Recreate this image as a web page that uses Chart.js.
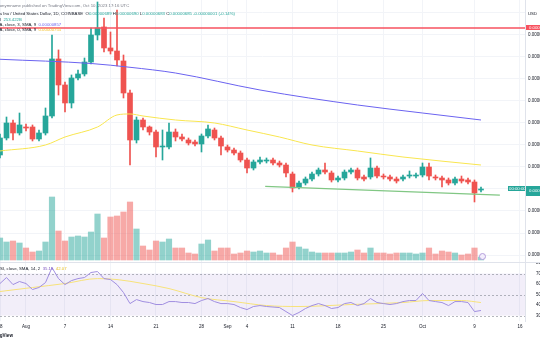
<!DOCTYPE html>
<html>
<head>
<meta charset="utf-8">
<script src="https://cdn.jsdelivr.net/npm/chart.js@4.4.0/dist/chart.umd.min.js"></script>
<style>
body { margin: 0; background: #fff; }
#wrap { position: relative; width: 540px; height: 340px; overflow: hidden; background: #fff; font-family: "Liberation Sans", Arial, sans-serif; }
#c1 { position: absolute; left: 0; top: 0; }
#c2 { position: absolute; left: 0; top: 262px; }
.t { position: absolute; white-space: nowrap; font-size: 4.3px; line-height: 5px; color: #131722; }
.g { color: #26a69a; }
.line { position: absolute; background: #e0e3eb; }
</style>
</head>
<body>
<div id="wrap">
  <canvas id="c1" width="540" height="262"></canvas>
  <canvas id="c2" width="540" height="78"></canvas>

  <div class="t" style="left:-6px;top:3px;color:#787b86">lanonymname published on TradingView.com, Oct 10, 2023 17:16 UTC</div>
  <div class="t" style="left:-9px;top:11px">Shiba Inu / United States Dollar, 1D, COINBASE&nbsp; O<span class="g">0.00000689</span> H<span class="g">0.00000690</span> L<span class="g">0.00000683</span> C<span class="g">0.00000685</span> <span class="g">-0.00000001 (-0.14%)</span></div>
  <div class="t" style="left:-5px;top:16.5px">Vol&nbsp; <span class="g">253.422B</span></div>
  <div class="t" style="left:-4px;top:21.5px">MA, close, 3, SMA, 9&nbsp; <span style="color:#6b63f0">0.00000857</span></div>
  <div class="t" style="left:-4px;top:26.5px">MA, close, 0, SMA, 9&nbsp; <span style="color:#f2c230">0.00000755</span></div>

  <div class="t" style="left:-3px;top:265.5px">RSI, close, SMA, 14, 2&nbsp; <span style="color:#7e57c2">35.15</span>&nbsp; <span style="color:#e8c024">42.07</span></div>

  <div class="t" style="left:528px;top:10.5px">USD</div>
  <div class="t" style="left:526px;top:25px;background:#f7525f;color:#fff;padding:0 3px">0.00001066</div>
  <div class="t" style="left:508px;top:186px;background:#26a69a;color:#fff;padding:0 1px">00:00:00</div>
  <div class="t" style="left:526px;top:185.5px;background:#26a69a;color:#fff;padding:0 3px;line-height:10px">0.00000700</div>
  <div style="position:absolute;left:479px;top:253px;width:5px;height:5px;border-radius:50%;border:1px solid #b39ddb;background:#f3eefc"></div>

  <div class="line" style="left:0;top:262px;width:540px;height:1px"></div>
  <div class="line" style="left:525px;top:0;width:1px;height:322px"></div>
  <div class="t" style="left:-14px;top:333px;font-weight:bold;font-size:4.6px">TradingView</div>
</div>

<script>
// daily candles, 28 Jul 2023 .. 10 Oct 2023 (prices in millionths of a dollar)
const opens = [7.773, 8.159, 8.5, 8.273, 8.409, 8.409, 8.136, 8.273, 8.659, 9.955,
    9.364, 8.955, 9.523, 9.614, 9.886, 10.5, 10.682, 10.205, 10.136, 9.909,
    9.182, 8.114, 8.568, 8.409, 8.295, 7.955, 7.955, 8.295, 8.182, 8.114,
    8.068, 8.023, 8.205, 8.341, 8.159, 7.955, 7.886, 7.818, 7.659, 7.477,
    7.614, 7.636, 7.659, 7.591, 7.545, 7.341, 7.045, 7.136, 7.227, 7.341,
    7.432, 7.364, 7.205, 7.25, 7.386, 7.432, 7.273, 7.273, 7.477, 7.295,
    7.273, 7.227, 7.227, 7.295, 7.295, 7.318, 7.5, 7.273, 7.25, 7.205,
    7.136, 7.227, 7.205, 7.159, 6.977];
const highs = [8.25, 8.636, 8.568, 8.727, 8.477, 8.455, 8.341, 8.841, 10.5, 10.16,
    9.432, 9.591, 9.705, 9.977, 10.659, 11.25, 10.886, 10.568, 11.068, 10.045,
    9.25, 8.636, 8.614, 8.432, 8.341, 8.341, 8.5, 8.364, 8.25, 8.159,
    8.114, 8.25, 8.455, 8.386, 8.205, 8.0, 7.932, 7.864, 7.705, 7.659,
    7.727, 7.705, 7.705, 7.636, 7.591, 7.386, 7.182, 7.273, 7.386, 7.477,
    7.591, 7.409, 7.295, 7.432, 7.477, 7.477, 7.318, 7.705, 7.523, 7.341,
    7.318, 7.273, 7.318, 7.409, 7.364, 7.591, 7.591, 7.318, 7.295, 7.25,
    7.273, 7.295, 7.25, 7.205, 7.045];
const lows = [7.705, 8.114, 8.114, 8.227, 8.318, 8.091, 8.091, 8.227, 8.614, 9.136,
    8.75, 8.841, 9.477, 9.568, 9.841, 10.386, 10.114, 10.068, 9.795, 9.068,
    7.545, 8.045, 8.341, 8.227, 7.727, 7.659, 7.909, 8.091, 8.091, 8.0,
    7.977, 7.841, 8.159, 8.114, 7.773, 7.841, 7.773, 7.614, 7.364, 7.432,
    7.568, 7.591, 7.545, 7.5, 7.273, 6.932, 7.0, 7.091, 7.182, 7.295,
    7.341, 7.159, 7.159, 7.205, 7.341, 7.205, 7.182, 7.227, 7.25, 7.227,
    7.182, 7.136, 7.182, 7.25, 7.25, 7.273, 7.205, 7.205, 7.045, 7.091,
    7.091, 7.136, 7.114, 6.705, 6.932];
const closes = [8.159, 8.5, 8.273, 8.455, 8.386, 8.136, 8.273, 8.659, 9.955, 9.364,
    8.955, 9.523, 9.614, 9.886, 10.5, 10.659, 10.205, 10.136, 9.932, 9.182,
    8.114, 8.568, 8.409, 8.295, 7.955, 7.977, 8.295, 8.182, 8.136, 8.045,
    8.023, 8.205, 8.364, 8.159, 7.977, 7.886, 7.818, 7.659, 7.477, 7.614,
    7.659, 7.659, 7.591, 7.545, 7.364, 7.023, 7.136, 7.227, 7.341, 7.432,
    7.386, 7.205, 7.25, 7.386, 7.432, 7.25, 7.227, 7.477, 7.295, 7.273,
    7.227, 7.182, 7.273, 7.318, 7.318, 7.5, 7.295, 7.25, 7.205, 7.136,
    7.227, 7.182, 7.159, 6.909, 7.0];
// volume, billions
const volumes = [220, 180, 190, 170, 120, 80, 90, 180, 630, 290,
    190, 230, 240, 230, 280, 460, 220, 430, 440, 480,
    580, 310, 140, 100, 190, 180, 210, 120, 120, 70,
    60, 160, 200, 90, 120, 120, 60, 70, 90, 80,
    90, 70, 70, 50, 120, 180, 130, 110, 80, 70,
    70, 70, 70, 70, 80, 100, 70, 120, 70, 70,
    60, 70, 70, 70, 60, 70, 120, 60, 90, 80,
    70, 50, 60, 120, 30];
const rsi = [60.5, 66.2, 59.5, 62.4, 60.5, 54.8, 56.7, 61.4, 75.7, 65.2,
    59.5, 63.3, 65.2, 66.2, 71.0, 71.9, 65.2, 64.3, 59.5, 51.9,
    41.4, 45.2, 43.3, 42.4, 40.5, 40.5, 43.3, 43.3, 42.4, 42.4,
    41.4, 44.3, 46.2, 43.3, 41.4, 41.4, 40.5, 37.6, 35.7, 38.6,
    39.5, 38.6, 38.1, 37.6, 33.8, 30.0, 32.9, 36.7, 39.5, 41.4,
    39.5, 36.7, 37.6, 41.4, 42.4, 39.5, 41.4, 46.2, 42.4, 41.4,
    40.5, 41.4, 43.3, 44.3, 44.3, 51.0, 44.3, 43.3, 42.4, 39.5,
    43.3, 43.3, 42.4, 33.8, 34.8];
// moving averages read at a few candles
const rsiMaDay = [0, 5, 10, 15, 18, 22, 26, 31, 36, 41, 46, 54, 62, 66, 71, 74];
const rsiMaVal = [52.9, 56.7, 60.5, 65.2, 64.3, 60.5, 55.7, 47.1, 43.3, 39.5, 38.6, 40.5, 42.4, 44.3, 44.3, 42.4];
const slowMaDay = [0, 14, 20, 27, 40, 55, 65, 74];
const slowMaVal = [9.948, 9.852, 9.766, 9.636, 9.25, 8.909, 8.727, 8.568];
const fastMaDay = [0, 7, 10, 15, 18, 20, 22, 27, 33, 38, 43, 48, 55, 62, 74];
const fastMaVal = [7.864, 8.0, 8.182, 8.409, 8.682, 8.705, 8.659, 8.568, 8.5, 8.341, 8.182, 8.0, 7.864, 7.727, 7.545];
// drawings
const trendDay = [40.8, 76.9];
const trendVal = [7.06, 6.86];
const levelVal = 10.66;
// time axis
const tickDay = [0, 4, 10, 17, 24, 31, 35, 38, 45, 52, 59, 65, 73, 80];
const tickText = ["28", "Aug", "7", "14", "21", "28", "Sep", "4", "11", "18", "25", "Oct", "9", "16"];

const UP = "#26a69a", DOWN = "#ef5350";
const xMin = 0, xMax = 80.77;
const font = { family: "Liberation Sans, Arial, sans-serif", size: 4.5 };

const pts = (xs, ys) => xs.map((x, i) => ({ x: x, y: ys[i] }));
const isUp = opens.map((o, i) => closes[i] >= o);

function fixWidth(w) {
    return axis => { axis.width = w; axis.paddingTop = 0; axis.paddingBottom = 0; };
}
function fixHeight(h) {
    return axis => { axis.height = h; axis.paddingLeft = 0; axis.paddingRight = 0; };
}
function xScale(showTicks) {
    return {
        type: "linear", min: xMin, max: xMax, offset: false,
        afterBuildTicks: axis => { axis.ticks = tickDay.map(v => ({ value: v })); },
        afterFit: fixHeight(showTicks ? 19 : 0),
        grid: { color: "#f2f4f8", drawTicks: false, offset: false },
        border: { display: false },
        ticks: {
            display: showTicks, font: font, color: "#131722", padding: 3, maxRotation: 0, autoSkip: false,
            callback: v => tickText[tickDay.indexOf(v)]
        }
    };
}

// price pane
new Chart(document.getElementById("c1"), {
    data: {
        datasets: [
            { type: "line", data: pts(trendDay, trendVal), borderColor: "#81c784", borderWidth: 1.2, pointRadius: 0, order: 0 },
            { type: "line", data: pts([xMin, xMax], [levelVal, levelVal]), borderColor: "#f7525f", borderWidth: 1.6, pointRadius: 0, order: 0 },
            { type: "line", data: pts(slowMaDay, slowMaVal), borderColor: "#6b63f0", borderWidth: 1, pointRadius: 0, cubicInterpolationMode: "monotone", order: 0 },
            { type: "line", data: pts(fastMaDay, fastMaVal), borderColor: "#f9e64f", borderWidth: 1, pointRadius: 0, cubicInterpolationMode: "monotone", order: 0 },
            {
                type: "bar", data: opens.map((o, i) => ({ x: i, y: [o, closes[i]] })),
                backgroundColor: isUp.map(u => u ? UP : DOWN), barThickness: 5, grouped: false, order: 1
            },
            {
                type: "bar", data: opens.map((o, i) => ({ x: i, y: [lows[i], highs[i]] })),
                backgroundColor: isUp.map(u => u ? UP : DOWN), barThickness: 1, grouped: false, order: 2
            },
            {
                type: "bar", yAxisID: "yv", data: volumes.map((v, i) => ({ x: i, y: v })),
                backgroundColor: isUp.map(u => u ? "rgba(38,166,154,0.5)" : "rgba(239,83,80,0.5)"),
                barThickness: 5.5, grouped: false, order: 3
            }
        ]
    },
    options: {
        responsive: false, animation: false,
        layout: { padding: 0 },
        plugins: { legend: { display: false }, tooltip: { enabled: false } },
        scales: {
            x: xScale(false),
            y: {
                position: "right", min: 5.341, max: 11.295,
                afterBuildTicks: axis => { axis.ticks = [5.5, 6, 6.5, 7, 7.5, 8, 8.5, 9, 9.5, 10, 10.5, 11].map(v => ({ value: v })); },
                afterFit: fixWidth(15),
                grid: { color: "#f2f4f8", drawTicks: false },
                border: { display: false },
                ticks: { font: font, color: "#131722", padding: 3, crossAlign: "near", callback: v => v === 11 ? "" : (v / 1e6).toFixed(8) }
            },
            yv: { display: false, min: -20, max: 2600 }
        }
    }
});

// RSI band
const bandPlugin = {
    id: "band",
    beforeDatasetsDraw(chart) {
        const { ctx, chartArea: a, scales: { y } } = chart;
        const y70 = y.getPixelForValue(70), y50 = y.getPixelForValue(50), y30 = y.getPixelForValue(30);
        ctx.save();
        ctx.fillStyle = "rgba(126,87,194,0.1)";
        ctx.fillRect(a.left, y70, a.right - a.left, y30 - y70);
        ctx.strokeStyle = "rgba(120,123,134,0.55)";
        ctx.lineWidth = 1;
        ctx.setLineDash([2, 2]);
        [y70, y50, y30].forEach(p => {
            ctx.beginPath();
            ctx.moveTo(a.left, Math.round(p) + 0.5);
            ctx.lineTo(a.right, Math.round(p) + 0.5);
            ctx.stroke();
        });
        ctx.restore();
    }
};

new Chart(document.getElementById("c2"), {
    data: {
        datasets: [
            { type: "line", data: rsi.map((v, i) => ({ x: i, y: v })), borderColor: "#a08ee0", borderWidth: 1, pointRadius: 0, tension: 0 },
            { type: "line", data: pts(rsiMaDay, rsiMaVal), borderColor: "#f7e27a", borderWidth: 1, pointRadius: 0, cubicInterpolationMode: "monotone" }
        ]
    },
    options: {
        responsive: false, animation: false,
        layout: { padding: 0 },
        plugins: { legend: { display: false }, tooltip: { enabled: false } },
        scales: {
            x: xScale(true),
            y: {
                position: "right", min: 24.8, max: 81,
                afterBuildTicks: axis => { axis.ticks = [30, 40, 50, 60, 70, 80].map(v => ({ value: v })); },
                afterFit: fixWidth(15),
                grid: { display: false },
                border: { display: false },
                ticks: { font: font, color: "#131722", padding: 3, crossAlign: "near", callback: v => v.toFixed(2) }
            }
        }
    },
    plugins: [bandPlugin]
});
</script>
</body>
</html>
